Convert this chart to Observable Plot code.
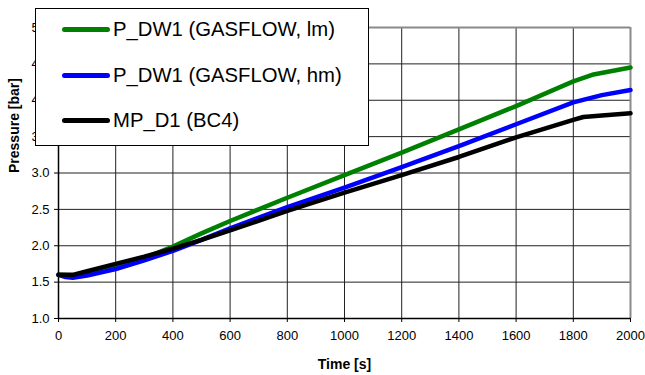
<!DOCTYPE html>
<html><head><meta charset="utf-8">
<script src="https://cdn.jsdelivr.net/npm/d3@7"></script>
<script src="https://cdn.jsdelivr.net/npm/@observablehq/plot@0.6"></script>
<style>
body{margin:0;background:#fff;font-family:"Liberation Sans",Arial,sans-serif;}
#wrap{position:relative;width:645px;height:375px;}
#legend{position:absolute;left:35px;top:8px;width:334px;height:138px;border:1px solid #000;background:#fff;box-sizing:border-box;}
.row{position:absolute;left:0;height:24px;display:flex;align-items:center;font-size:20.3px;white-space:nowrap;color:#000;}
.sw{width:48px;height:5px;border-radius:3px;margin-left:26px;margin-right:3px;}
</style></head><body><div id="wrap"><div id="legend"></div></div>
<script>
// ---- data ----
const seriesNames = ["P_DW1 (GASFLOW, lm)", "P_DW1 (GASFLOW, hm)", "MP_D1 (BC4)"];
const seriesColors = ["#008000", "#0000ff", "#000000"];

const tGreen = [0,50,100,200,300,400,500,600,800,1000,1200,1400,1600,1800,1866,2000];
const pGreen = [1.60,1.59,1.62,1.71,1.83,1.99,2.17,2.34,2.66,2.97,3.28,3.60,3.92,4.26,4.35,4.45];

const tBlue = [0,25,50,100,200,300,400,500,600,800,1000,1200,1400,1600,1800,1900,2000];
const pBlue = [1.60,1.57,1.56,1.59,1.68,1.80,1.93,2.08,2.24,2.53,2.80,3.08,3.37,3.67,3.97,4.07,4.14];

const tBlack = [0,50,100,200,300,400,500,600,800,1000,1200,1400,1600,1800,1835,1900,2000];
const pBlack = [1.60,1.60,1.65,1.75,1.85,1.96,2.08,2.21,2.48,2.73,2.97,3.22,3.49,3.73,3.77,3.79,3.82];

const xTicks = [0,200,400,600,800,1000,1200,1400,1600,1800,2000];
const yTicks = [1.0,1.5,2.0,2.5,3.0,3.5,4.0,4.5,5.0];
const xTitle = "Time [s]";
const yTitle = "Pressure [bar]";

// ---- build ----
const mk = (ts, ps) => ts.map((t, i) => ({t, p: ps[i]}));
const dGreen = mk(tGreen, pGreen), dBlue = mk(tBlue, pBlue), dBlack = mk(tBlack, pBlack);
const xDom = [xTicks[0], xTicks[xTicks.length-1]];
const yDom = [yTicks[0], yTicks[yTicks.length-1]];

const chart = Plot.plot({
  width: 645, height: 375,
  marginLeft: 58, marginRight: 15, marginTop: 27, marginBottom: 57,
  x: {domain: xDom},
  y: {domain: yDom},
  style: {fontFamily: "'Liberation Sans', Arial, sans-serif", fontSize: "13px", background: "white", color: "black"},
  marks: [
    Plot.gridX(xTicks, {stroke: "#222", strokeOpacity: 1}),
    Plot.gridY(yTicks, {stroke: "#222", strokeOpacity: 1}),
    Plot.ruleY([yDom[1]], {stroke: "#8a8a8a", strokeWidth: 2}),
    Plot.ruleX([xDom[1]], {stroke: "#8a8a8a", strokeWidth: 2}),
    Plot.line(dGreen, {x: "t", y: "p", stroke: seriesColors[0], strokeWidth: 4.5}),
    Plot.line(dBlue, {x: "t", y: "p", stroke: seriesColors[1], strokeWidth: 4.5}),
    Plot.line(dBlack, {x: "t", y: "p", stroke: seriesColors[2], strokeWidth: 4.5}),
    Plot.ruleY([yDom[0]], {stroke: "black", strokeWidth: 1.5}),
    Plot.ruleX([xDom[0]], {stroke: "black", strokeWidth: 1.5}),
    Plot.axisX(xTicks, {tickSize: 4, tickPadding: 8, label: null, fontSize: 13, tickFormat: d3.format("d")}),
    Plot.axisY(yTicks, {tickSize: 4, tickPadding: 5, label: null, fontSize: 13, tickFormat: d3.format(".1f")}),
    Plot.text([xTitle], {frameAnchor: "bottom", dy: 46, lineAnchor: "middle", fontSize: 14, fontWeight: "bold"}),
    Plot.text([yTitle], {frameAnchor: "left", dx: -44, rotate: -90, lineAnchor: "middle", fontSize: 14, fontWeight: "bold"})
  ]
});
const wrap = document.getElementById("wrap");
wrap.insertBefore(chart, wrap.firstChild);

const legend = document.getElementById("legend");
const centers = [20.5, 66, 111.7];
seriesNames.forEach((name, i) => {
  const row = document.createElement("div");
  row.className = "row";
  row.style.top = (centers[i] - 12) + "px";
  const sw = document.createElement("div");
  sw.className = "sw";
  sw.style.background = seriesColors[i];
  const tx = document.createElement("span");
  tx.textContent = name;
  row.appendChild(sw); row.appendChild(tx);
  legend.appendChild(row);
});
</script>
</body></html>
